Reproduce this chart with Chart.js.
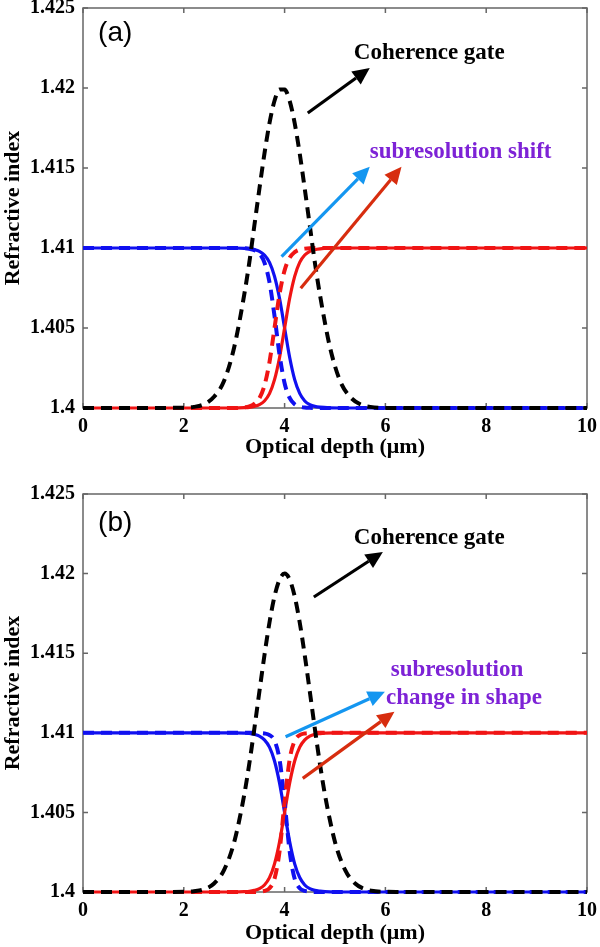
<!DOCTYPE html>
<html>
<head>
<meta charset="utf-8">
<title>Refractive index vs optical depth</title>
<script src="https://cdn.jsdelivr.net/npm/chart.js@4/dist/chart.umd.min.js"></script>
<style>
    body { margin: 0; background: #fff; }
    canvas { display: block; }
</style>
</head>
<body>
<canvas id="chart-a" width="600" height="470"></canvas>
<canvas id="chart-b" width="600" height="477"></canvas>
<script>
'use strict'

// axis ticks
const depthTicks = [0, 2, 4, 6, 8, 10];
const indexTicks = [1.4, 1.405, 1.41, 1.415, 1.42, 1.425];
const indexTickLabels = ['1.4', '1.405', '1.41', '1.415', '1.42', '1.425'];

// panel (a) - subresolution shift
const depthA = [0, 1, 2, 2.2, 2.4, 2.6, 2.8, 3.0, 3.2, 3.3, 3.4, 3.5, 3.6, 3.7, 3.8, 3.9, 4.0,
    4.1, 4.2, 4.3, 4.4, 4.5, 4.6, 4.7, 4.9, 5.1, 5.3, 5.5, 5.7, 6, 8, 10];
const gateA = [1.4, 1.4, 1.40002, 1.40007, 1.40023, 1.4007, 1.4017, 1.4038, 1.4071, 1.4091, 1.4114,
    1.4137, 1.4159, 1.4178, 1.4192, 1.4199, 1.4199, 1.4192, 1.4178, 1.4159, 1.4137, 1.4114, 1.4091,
    1.4071, 1.4038, 1.4017, 1.4007, 1.40023, 1.40007, 1.4, 1.4, 1.4];
const blueA = [1.41, 1.41, 1.41, 1.41, 1.41, 1.41, 1.41, 1.41, 1.40998, 1.40996, 1.4099, 1.40979,
    1.40956, 1.4091, 1.40823, 1.40684, 1.405, 1.40317, 1.40177, 1.40091, 1.40044, 1.40021, 1.4001,
    1.40005, 1.40001, 1.4, 1.4, 1.4, 1.4, 1.4, 1.4, 1.4];
const redA = [1.4, 1.4, 1.4, 1.4, 1.4, 1.4, 1.4, 1.4, 1.40002, 1.40004, 1.4001, 1.40021, 1.40044,
    1.4009, 1.40177, 1.40316, 1.405, 1.40684, 1.40823, 1.4091, 1.40956, 1.40979, 1.4099, 1.40995,
    1.40999, 1.41, 1.41, 1.41, 1.41, 1.41, 1.41, 1.41];
const blueDashA = [1.41, 1.41, 1.41, 1.41, 1.41, 1.41, 1.41, 1.41, 1.40998, 1.40995, 1.40987, 1.40965,
    1.40909, 1.40786, 1.40575, 1.40332, 1.40155, 1.40063, 1.40024, 1.40009, 1.40003, 1.40001, 1.4,
    1.4, 1.4, 1.4, 1.4, 1.4, 1.4, 1.4, 1.4, 1.4];
const redDashA = [1.4, 1.4, 1.4, 1.4, 1.4, 1.4, 1.4, 1.4, 1.40004, 1.4001, 1.40026, 1.40061, 1.4014,
    1.40287, 1.405, 1.40713, 1.4086, 1.40939, 1.40974, 1.4099, 1.40996, 1.40999, 1.41, 1.41, 1.41,
    1.41, 1.41, 1.41, 1.41, 1.41, 1.41, 1.41];

// panel (b) - subresolution change in shape
const depthB = [0, 1, 2, 2.2, 2.4, 2.6, 2.8, 3.0, 3.2, 3.3, 3.4, 3.5, 3.6, 3.7, 3.8, 3.9, 4.0,
    4.1, 4.2, 4.3, 4.4, 4.5, 4.6, 4.7, 4.8, 5.0, 5.2, 5.4, 5.6, 5.8, 6, 8, 10];
const gateB = [1.4, 1.4, 1.40001, 1.40005, 1.40017, 1.40053, 1.40139, 1.40314, 1.40612, 1.40807,
    1.41027, 1.41259, 1.41487, 1.41693, 1.41857, 1.41963, 1.42, 1.41963, 1.41857, 1.41693, 1.41487,
    1.41259, 1.41027, 1.40807, 1.40612, 1.40314, 1.40139, 1.40053, 1.40017, 1.40005, 1.40001, 1.4, 1.4];
const blueB = [1.41, 1.41, 1.41, 1.41, 1.41, 1.41, 1.41, 1.41, 1.40998, 1.40996, 1.4099, 1.40979,
    1.40956, 1.4091, 1.40823, 1.40684, 1.405, 1.40317, 1.40177, 1.40091, 1.40044, 1.40021, 1.4001,
    1.40005, 1.40002, 1.4, 1.4, 1.4, 1.4, 1.4, 1.4, 1.4, 1.4];
const redB = [1.4, 1.4, 1.4, 1.4, 1.4, 1.4, 1.4, 1.4, 1.40002, 1.40004, 1.4001, 1.40021, 1.40044,
    1.4009, 1.40177, 1.40316, 1.405, 1.40684, 1.40823, 1.4091, 1.40956, 1.40979, 1.4099, 1.40995,
    1.40998, 1.41, 1.41, 1.41, 1.41, 1.41, 1.41, 1.41, 1.41];
const blueDashB = [1.41, 1.41, 1.41, 1.41, 1.41, 1.41, 1.41, 1.41, 1.41, 1.41, 1.41, 1.40999, 1.40996,
    1.40986, 1.4095, 1.40832, 1.40566, 1.40256, 1.40083, 1.40024, 1.40007, 1.40002, 1.4, 1.4, 1.4,
    1.4, 1.4, 1.4, 1.4, 1.4, 1.4, 1.4, 1.4];
const redDashB = [1.4, 1.4, 1.4, 1.4, 1.4, 1.4, 1.4, 1.4, 1.4, 1.4, 1.4, 1.40002, 1.40007, 1.40024,
    1.40083, 1.40256, 1.40566, 1.40832, 1.4095, 1.40986, 1.40996, 1.40999, 1.41, 1.41, 1.41, 1.41,
    1.41, 1.41, 1.41, 1.41, 1.41, 1.41, 1.41];

(function () {

    var serif = "'Liberation Serif', 'Times New Roman', serif";
    var tickFont = { family: serif, size: 20, weight: 'bold' };
    var titleFont = { family: serif, size: 22, weight: 'bold' };
    var noteFont = 'bold 23px ' + serif;
    var panelFont = '28px "Liberation Sans", Arial, sans-serif';
    var purple = '#7d22d6';

    function pairs(xs, ys) {
        return xs.map(function (x, i) { return { x: x, y: ys[i] }; });
    }

    function curve(xs, ys, color, dashed) {
        return {
            data: pairs(xs, ys),
            borderColor: color,
            borderWidth: dashed ? 4 : 3.2,
            borderDash: dashed ? [11, 7] : [],
            pointRadius: 0,
            cubicInterpolationMode: 'monotone',
            fill: false,
            clip: false
        };
    }

    function drawArrow(ctx, x1, y1, x2, y2, color) {
        var ang = Math.atan2(y2 - y1, x2 - x1);
        var head = 17, half = 8;
        var bx = x2 - head * Math.cos(ang);
        var by = y2 - head * Math.sin(ang);
        ctx.strokeStyle = color;
        ctx.fillStyle = color;
        ctx.lineWidth = 3.2;
        ctx.beginPath();
        ctx.moveTo(x1, y1);
        ctx.lineTo(bx, by);
        ctx.stroke();
        ctx.beginPath();
        ctx.moveTo(x2, y2);
        ctx.lineTo(bx + half * Math.sin(ang), by - half * Math.cos(ang));
        ctx.lineTo(bx - half * Math.sin(ang), by + half * Math.cos(ang));
        ctx.closePath();
        ctx.fill();
    }

    // axes box with inward ticks, then arrows + labels over the curves
    var marksPlugin = {
        id: 'marks',
        beforeDatasetsDraw: function (chart) {
            var ctx = chart.ctx, a = chart.chartArea;
            var xs = chart.scales.x, ys = chart.scales.y;
            ctx.save();
            ctx.strokeStyle = '#666';
            ctx.lineWidth = 1.5;
            ctx.strokeRect(a.left, a.top, a.right - a.left, a.bottom - a.top);
            ctx.beginPath();
            xs.ticks.forEach(function (t) {
                var px = xs.getPixelForValue(t.value);
                ctx.moveTo(px, a.bottom); ctx.lineTo(px, a.bottom - 5);
                ctx.moveTo(px, a.top); ctx.lineTo(px, a.top + 5);
            });
            ys.ticks.forEach(function (t) {
                var py = ys.getPixelForValue(t.value);
                ctx.moveTo(a.left, py); ctx.lineTo(a.left + 5, py);
                ctx.moveTo(a.right, py); ctx.lineTo(a.right - 5, py);
            });
            ctx.stroke();
            ctx.restore();
        },
        afterDatasetsDraw: function (chart, args, opts) {
            var ctx = chart.ctx;
            var xs = chart.scales.x, ys = chart.scales.y;
            ctx.save();
            opts.arrows.forEach(function (ar) {
                drawArrow(ctx, xs.getPixelForValue(ar.from[0]), ys.getPixelForValue(ar.from[1]),
                    xs.getPixelForValue(ar.to[0]), ys.getPixelForValue(ar.to[1]), ar.color);
            });
            ctx.textBaseline = 'middle';
            opts.notes.forEach(function (n) {
                ctx.font = n.font || noteFont;
                ctx.fillStyle = n.color || '#000';
                ctx.textAlign = n.align || 'center';
                ctx.fillText(n.text, xs.getPixelForValue(n.at[0]), ys.getPixelForValue(n.at[1]));
            });
            ctx.restore();
        }
    };

    function makeChart(id, p) {
        return new Chart(document.getElementById(id), {
            type: 'line',
            data: {
                datasets: [
                    curve(p.depth, p.gate, '#000000', true),
                    curve(p.depth, p.redDash, '#f01414', true),
                    curve(p.depth, p.blueDash, '#1010f0', true),
                    curve(p.depth, p.red, '#f01414', false),
                    curve(p.depth, p.blue, '#1010f0', false)
                ]
            },
            options: {
                responsive: false,
                animation: false,
                events: [],
                layout: { padding: { left: 0, right: 13, top: p.top, bottom: 0 } },
                plugins: {
                    legend: { display: false },
                    tooltip: { enabled: false },
                    marks: { arrows: p.arrows, notes: p.notes }
                },
                scales: {
                    x: {
                        type: 'linear',
                        min: 0,
                        max: 10,
                        grid: { display: false, drawTicks: false },
                        border: { display: false },
                        afterBuildTicks: function (s) {
                            s.ticks = depthTicks.map(function (v) { return { value: v }; });
                        },
                        ticks: {
                            padding: 7,
                            color: '#000',
                            font: tickFont,
                            maxRotation: 0,
                            callback: function (v) { return String(v); }
                        },
                        title: {
                            display: true,
                            text: 'Optical depth (μm)',
                            color: '#000',
                            font: titleFont,
                            padding: { top: 0, bottom: p.titlePad }
                        },
                        afterFit: function (s) {
                            s.height = p.xHeight;
                            s.paddingLeft = 0;
                            s.paddingRight = 0;
                        }
                    },
                    y: {
                        type: 'linear',
                        min: 1.4,
                        max: 1.425,
                        grid: { display: false, drawTicks: false },
                        border: { display: false },
                        afterBuildTicks: function (s) {
                            s.ticks = indexTicks.map(function (v) { return { value: v }; });
                        },
                        ticks: {
                            padding: 8,
                            color: '#000',
                            font: tickFont,
                            callback: function (v, i) { return indexTickLabels[i]; }
                        },
                        title: {
                            display: true,
                            text: 'Refractive index',
                            color: '#000',
                            font: titleFont,
                            padding: 0
                        },
                        afterFit: function (s) {
                            s.width = 83;
                            s.paddingTop = 0;
                            s.paddingBottom = 0;
                        }
                    }
                }
            },
            plugins: [marksPlugin]
        });
    }

    makeChart('chart-a', {
        depth: depthA, gate: gateA, blue: blueA, red: redA, blueDash: blueDashA, redDash: redDashA,
        top: 8, xHeight: 62, titlePad: 9,
        arrows: [
            { from: [4.46, 1.41844], to: [5.69, 1.42125], color: '#000' },
            { from: [3.94, 1.40946], to: [5.69, 1.41508], color: '#1496f0' },
            { from: [4.32, 1.40748], to: [6.32, 1.41508], color: '#d72d0f' }
        ],
        notes: [
            { text: '(a)', at: [0.3, 1.42344], align: 'left', font: panelFont },
            { text: 'Coherence gate', at: [6.87, 1.42219] },
            { text: 'subresolution shift', at: [5.69, 1.416], align: 'left', color: purple }
        ]
    });

    makeChart('chart-b', {
        depth: depthB, gate: gateB, blue: blueB, red: redB, blueDash: blueDashB, redDash: redDashB,
        top: 24, xHeight: 55, titlePad: 0,
        arrows: [
            { from: [4.58, 1.41853], to: [5.95, 1.42136], color: '#000' },
            { from: [4.02, 1.40975], to: [5.99, 1.41258], color: '#1496f0' },
            { from: [4.36, 1.40714], to: [6.18, 1.41133], color: '#d72d0f' }
        ],
        notes: [
            { text: '(b)', at: [0.3, 1.42318], align: 'left', font: panelFont },
            { text: 'Coherence gate', at: [6.87, 1.42224] },
            { text: 'subresolution', at: [7.42, 1.41394], color: purple },
            { text: 'change in shape', at: [7.56, 1.41219], color: purple }
        ]
    });

})();
</script>
</body>
</html>
